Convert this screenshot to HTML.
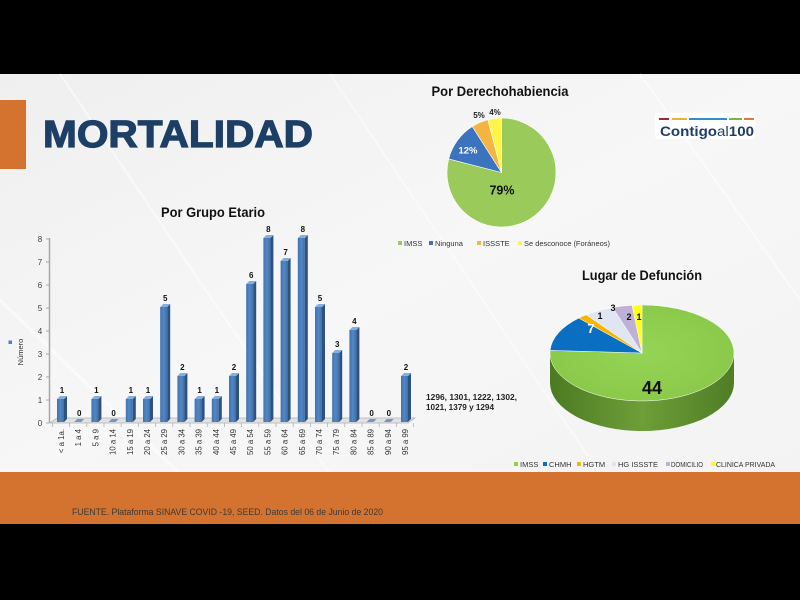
<!DOCTYPE html>
<html><head><meta charset="utf-8"><style>
html,body{margin:0;padding:0;background:#000;}
svg{display:block;}
text{font-family:"Liberation Sans",Arial,sans-serif;}
.bv{font-size:8px;font-weight:bold;fill:#111;text-anchor:middle;}
.yl{font-size:8px;fill:#404040;text-anchor:middle;}
.xl{font-size:7.8px;fill:#333;text-anchor:end;}
.lg{font-size:7.5px;fill:#333;}
</style></head><body>
<svg width="800" height="600" viewBox="0 0 800 600" xmlns="http://www.w3.org/2000/svg">
<defs>
<linearGradient id="bg" x1="0" y1="0" x2="1" y2="1">
<stop offset="0" stop-color="#efefef"/><stop offset="0.5" stop-color="#f7f7f7"/><stop offset="1" stop-color="#f3f3f3"/>
</linearGradient>
<linearGradient id="bf" x1="0" y1="0" x2="1" y2="0">
<stop offset="0" stop-color="#3f72b0"/><stop offset="0.5" stop-color="#5288c6"/><stop offset="1" stop-color="#416fa8"/>
</linearGradient>
<linearGradient id="side" x1="0" y1="0" x2="1" y2="0">
<stop offset="0" stop-color="#4c7a22"/><stop offset="0.5" stop-color="#6e9e38"/><stop offset="1" stop-color="#4f7d25"/>
</linearGradient>
<radialGradient id="gtop" cx="0.5" cy="0.5" r="0.6">
<stop offset="0" stop-color="#96d456"/><stop offset="1" stop-color="#88c748"/>
</radialGradient>
</defs>
<rect x="0" y="0" width="800" height="600" fill="#000"/>
<rect x="0" y="74" width="800" height="400" fill="url(#bg)"/>
<g stroke="#ffffff" stroke-opacity="0.5" fill="none">
<line x1="60" y1="74" x2="330" y2="474" stroke-width="2"/>
<line x1="330" y1="74" x2="600" y2="474" stroke-width="1.5"/>
<line x1="640" y1="74" x2="800" y2="300" stroke-width="2"/>
<line x1="0" y1="300" x2="180" y2="474" stroke-width="3"/>
</g>
<rect x="0" y="100" width="26" height="69" fill="#d3732f"/>
<text x="43" y="147" font-size="38" font-weight="bold" fill="#1d3f66" stroke="#1d3f66" stroke-width="1.2" textLength="270" lengthAdjust="spacingAndGlyphs">MORTALIDAD</text>
<rect x="655" y="113" width="100" height="26" rx="3" fill="#ffffff"/>
<g stroke-width="2">
<line x1="659" y1="119" x2="669" y2="119" stroke="#9e2a2f"/>
<line x1="672" y1="119" x2="687" y2="119" stroke="#e8b33c"/>
<line x1="689" y1="119" x2="727" y2="119" stroke="#2e8fc9"/>
<line x1="729" y1="119" x2="742" y2="119" stroke="#7cb342"/>
<line x1="744" y1="119" x2="754" y2="119" stroke="#e07b39"/>
</g>
<text x="660" y="136" font-size="14" font-weight="bold" fill="#1d3f66" textLength="94" lengthAdjust="spacingAndGlyphs">Contigo<tspan font-weight="normal">al</tspan>100</text>

<text x="213" y="217" font-size="14" font-weight="bold" fill="#111" text-anchor="middle" textLength="104" lengthAdjust="spacingAndGlyphs">Por Grupo Etario</text>
<rect x="8.5" y="340.5" width="3.5" height="3.5" fill="#4f81bd"/>
<text transform="translate(23,352) rotate(-90)" font-size="7.5" fill="#333" text-anchor="middle">Número</text>
<line x1="49.5" y1="238" x2="49.5" y2="423" stroke="#a8a8a8" stroke-width="1.5"/>
<g stroke="#a8a8a8" stroke-width="1">
<line x1="46" y1="239" x2="49" y2="239"/><line x1="46" y1="262" x2="49" y2="262"/>
<line x1="46" y1="285" x2="49" y2="285"/><line x1="46" y1="308" x2="49" y2="308"/>
<line x1="46" y1="331" x2="49" y2="331"/><line x1="46" y1="354" x2="49" y2="354"/>
<line x1="46" y1="377" x2="49" y2="377"/><line x1="46" y1="400" x2="49" y2="400"/>
<line x1="46" y1="423" x2="49" y2="423"/>
</g>
<text class="yl" x="40" y="242">8</text><text class="yl" x="40" y="265">7</text>
<text class="yl" x="40" y="288">6</text><text class="yl" x="40" y="311">5</text>
<text class="yl" x="40" y="334">4</text><text class="yl" x="40" y="357">3</text>
<text class="yl" x="40" y="380">2</text><text class="yl" x="40" y="403">1</text>
<text class="yl" x="40" y="426">0</text>
<polygon points="50,423 408,423 415,418 57,418" fill="#e2e2e2" stroke="#b3b3b3" stroke-width="0.8"/>
<g stroke="#b3b3b3" stroke-width="0.8">
<line x1="52.4" y1="423" x2="52.4" y2="427"/><line x1="69.6" y1="423" x2="69.6" y2="427"/>
<line x1="86.8" y1="423" x2="86.8" y2="427"/><line x1="104" y1="423" x2="104" y2="427"/>
<line x1="121.2" y1="423" x2="121.2" y2="427"/><line x1="138.4" y1="423" x2="138.4" y2="427"/>
<line x1="155.6" y1="423" x2="155.6" y2="427"/><line x1="172.8" y1="423" x2="172.8" y2="427"/>
<line x1="190" y1="423" x2="190" y2="427"/><line x1="207.2" y1="423" x2="207.2" y2="427"/>
<line x1="224.4" y1="423" x2="224.4" y2="427"/><line x1="241.6" y1="423" x2="241.6" y2="427"/>
<line x1="258.8" y1="423" x2="258.8" y2="427"/><line x1="276" y1="423" x2="276" y2="427"/>
<line x1="293.2" y1="423" x2="293.2" y2="427"/><line x1="310.4" y1="423" x2="310.4" y2="427"/>
<line x1="327.6" y1="423" x2="327.6" y2="427"/><line x1="344.8" y1="423" x2="344.8" y2="427"/>
<line x1="362" y1="423" x2="362" y2="427"/><line x1="379.2" y1="423" x2="379.2" y2="427"/>
<line x1="396.4" y1="423" x2="396.4" y2="427"/><line x1="413.6" y1="423" x2="413.6" y2="427"/>
</g>

<g transform="translate(57,0)"><rect x="0" y="399" width="7" height="23" fill="url(#bf)"/><polygon points="7,399 10,396 10,419 7,422" fill="#2d527f"/><polygon points="0,399 3,396 10,396 7,399" fill="#86aee0"/><text class="bv" x="5" y="393">1</text></g>
<g transform="translate(74.2,0)"><polygon points="0,422 3,419 10,419 7,422" fill="#6f97c9"/><text class="bv" x="5" y="416">0</text></g>
<g transform="translate(91.4,0)"><rect x="0" y="399" width="7" height="23" fill="url(#bf)"/><polygon points="7,399 10,396 10,419 7,422" fill="#2d527f"/><polygon points="0,399 3,396 10,396 7,399" fill="#86aee0"/><text class="bv" x="5" y="393">1</text></g>
<g transform="translate(108.6,0)"><polygon points="0,422 3,419 10,419 7,422" fill="#6f97c9"/><text class="bv" x="5" y="416">0</text></g>
<g transform="translate(125.8,0)"><rect x="0" y="399" width="7" height="23" fill="url(#bf)"/><polygon points="7,399 10,396 10,419 7,422" fill="#2d527f"/><polygon points="0,399 3,396 10,396 7,399" fill="#86aee0"/><text class="bv" x="5" y="393">1</text></g>
<g transform="translate(143,0)"><rect x="0" y="399" width="7" height="23" fill="url(#bf)"/><polygon points="7,399 10,396 10,419 7,422" fill="#2d527f"/><polygon points="0,399 3,396 10,396 7,399" fill="#86aee0"/><text class="bv" x="5" y="393">1</text></g>
<g transform="translate(160.2,0)"><rect x="0" y="307" width="7" height="115" fill="url(#bf)"/><polygon points="7,307 10,304 10,419 7,422" fill="#2d527f"/><polygon points="0,307 3,304 10,304 7,307" fill="#86aee0"/><text class="bv" x="5" y="301">5</text></g>
<g transform="translate(177.4,0)"><rect x="0" y="376" width="7" height="46" fill="url(#bf)"/><polygon points="7,376 10,373 10,419 7,422" fill="#2d527f"/><polygon points="0,376 3,373 10,373 7,376" fill="#86aee0"/><text class="bv" x="5" y="370">2</text></g>
<g transform="translate(194.6,0)"><rect x="0" y="399" width="7" height="23" fill="url(#bf)"/><polygon points="7,399 10,396 10,419 7,422" fill="#2d527f"/><polygon points="0,399 3,396 10,396 7,399" fill="#86aee0"/><text class="bv" x="5" y="393">1</text></g>
<g transform="translate(211.8,0)"><rect x="0" y="399" width="7" height="23" fill="url(#bf)"/><polygon points="7,399 10,396 10,419 7,422" fill="#2d527f"/><polygon points="0,399 3,396 10,396 7,399" fill="#86aee0"/><text class="bv" x="5" y="393">1</text></g>
<g transform="translate(229,0)"><rect x="0" y="376" width="7" height="46" fill="url(#bf)"/><polygon points="7,376 10,373 10,419 7,422" fill="#2d527f"/><polygon points="0,376 3,373 10,373 7,376" fill="#86aee0"/><text class="bv" x="5" y="370">2</text></g>
<g transform="translate(246.2,0)"><rect x="0" y="284" width="7" height="138" fill="url(#bf)"/><polygon points="7,284 10,281 10,419 7,422" fill="#2d527f"/><polygon points="0,284 3,281 10,281 7,284" fill="#86aee0"/><text class="bv" x="5" y="278">6</text></g>
<g transform="translate(263.4,0)"><rect x="0" y="238" width="7" height="184" fill="url(#bf)"/><polygon points="7,238 10,235 10,419 7,422" fill="#2d527f"/><polygon points="0,238 3,235 10,235 7,238" fill="#86aee0"/><text class="bv" x="5" y="232">8</text></g>
<g transform="translate(280.6,0)"><rect x="0" y="261" width="7" height="161" fill="url(#bf)"/><polygon points="7,261 10,258 10,419 7,422" fill="#2d527f"/><polygon points="0,261 3,258 10,258 7,261" fill="#86aee0"/><text class="bv" x="5" y="255">7</text></g>
<g transform="translate(297.8,0)"><rect x="0" y="238" width="7" height="184" fill="url(#bf)"/><polygon points="7,238 10,235 10,419 7,422" fill="#2d527f"/><polygon points="0,238 3,235 10,235 7,238" fill="#86aee0"/><text class="bv" x="5" y="232">8</text></g>
<g transform="translate(315,0)"><rect x="0" y="307" width="7" height="115" fill="url(#bf)"/><polygon points="7,307 10,304 10,419 7,422" fill="#2d527f"/><polygon points="0,307 3,304 10,304 7,307" fill="#86aee0"/><text class="bv" x="5" y="301">5</text></g>
<g transform="translate(332.2,0)"><rect x="0" y="353" width="7" height="69" fill="url(#bf)"/><polygon points="7,353 10,350 10,419 7,422" fill="#2d527f"/><polygon points="0,353 3,350 10,350 7,353" fill="#86aee0"/><text class="bv" x="5" y="347">3</text></g>
<g transform="translate(349.4,0)"><rect x="0" y="330" width="7" height="92" fill="url(#bf)"/><polygon points="7,330 10,327 10,419 7,422" fill="#2d527f"/><polygon points="0,330 3,327 10,327 7,330" fill="#86aee0"/><text class="bv" x="5" y="324">4</text></g>
<g transform="translate(366.6,0)"><polygon points="0,422 3,419 10,419 7,422" fill="#6f97c9"/><text class="bv" x="5" y="416">0</text></g>
<g transform="translate(383.8,0)"><polygon points="0,422 3,419 10,419 7,422" fill="#6f97c9"/><text class="bv" x="5" y="416">0</text></g>
<g transform="translate(401,0)"><rect x="0" y="376" width="7" height="46" fill="url(#bf)"/><polygon points="7,376 10,373 10,419 7,422" fill="#2d527f"/><polygon points="0,376 3,373 10,373 7,376" fill="#86aee0"/><text class="bv" x="5" y="370">2</text></g>

<text class="xl" transform="translate(64,429) rotate(-90)">&lt; a 1a.</text>
<text class="xl" transform="translate(81.2,429) rotate(-90)">1 a 4</text>
<text class="xl" transform="translate(98.4,429) rotate(-90)">5 a 9</text>
<text class="xl" transform="translate(115.6,429) rotate(-90)">10 a 14</text>
<text class="xl" transform="translate(132.8,429) rotate(-90)">15 a 19</text>
<text class="xl" transform="translate(150,429) rotate(-90)">20 a 24</text>
<text class="xl" transform="translate(167.2,429) rotate(-90)">25 a 29</text>
<text class="xl" transform="translate(184.4,429) rotate(-90)">30 a 34</text>
<text class="xl" transform="translate(201.6,429) rotate(-90)">35 a 39</text>
<text class="xl" transform="translate(218.8,429) rotate(-90)">40 a 44</text>
<text class="xl" transform="translate(236,429) rotate(-90)">45 a 49</text>
<text class="xl" transform="translate(253.2,429) rotate(-90)">50 a 54</text>
<text class="xl" transform="translate(270.4,429) rotate(-90)">55 a 59</text>
<text class="xl" transform="translate(287.6,429) rotate(-90)">60 a 64</text>
<text class="xl" transform="translate(304.8,429) rotate(-90)">65 a 69</text>
<text class="xl" transform="translate(322,429) rotate(-90)">70 a 74</text>
<text class="xl" transform="translate(339.2,429) rotate(-90)">75 a 79</text>
<text class="xl" transform="translate(356.4,429) rotate(-90)">80 a 84</text>
<text class="xl" transform="translate(373.6,429) rotate(-90)">85 a 89</text>
<text class="xl" transform="translate(390.8,429) rotate(-90)">90 a 94</text>
<text class="xl" transform="translate(408,429) rotate(-90)">95 a 99</text>

<text x="426" y="400" font-size="8" font-weight="bold" fill="#222" textLength="91" lengthAdjust="spacingAndGlyphs">1296, 1301, 1222, 1302,</text>
<text x="426" y="410" font-size="8" font-weight="bold" fill="#222" textLength="68" lengthAdjust="spacingAndGlyphs">1021, 1379 y 1294</text>

<text x="500" y="96" font-size="14" font-weight="bold" fill="#111" text-anchor="middle" textLength="137" lengthAdjust="spacingAndGlyphs">Por Derechohabiencia</text>
<g stroke="#ffffff" stroke-width="0.6">
<path d="M501.5,172.5 L501.5,118 A54.5,54.5 0 1 1 448.7,158.9 Z" fill="#9acb5a"/>
<path d="M501.5,172.5 L448.7,158.9 A54.5,54.5 0 0 1 472.3,126.5 Z" fill="#3c73bf"/>
<path d="M501.5,172.5 L472.3,126.5 A54.5,54.5 0 0 1 487.9,119.7 Z" fill="#f3b442"/>
<path d="M501.5,172.5 L487.9,119.7 A54.5,54.5 0 0 1 501.5,118 Z" fill="#fff548"/>
</g>
<text x="502" y="194.5" font-size="12.5" font-weight="bold" fill="#111" text-anchor="middle">79%</text>
<text x="468" y="153.5" font-size="9.5" font-weight="bold" fill="#fff" text-anchor="middle">12%</text>
<text x="479" y="118" font-size="8" font-weight="bold" fill="#222" text-anchor="middle">5%</text>
<text x="495" y="115" font-size="8" font-weight="bold" fill="#222" text-anchor="middle">4%</text>
<rect x="398" y="241" width="4" height="4" fill="#9acb5a"/><text class="lg" x="404" y="246">IMSS</text>
<rect x="429" y="241" width="4" height="4" fill="#3c73bf"/><text class="lg" x="435" y="246">Ninguna</text>
<rect x="477" y="241" width="4" height="4" fill="#f3b442"/><text class="lg" x="483" y="246">ISSSTE</text>
<rect x="518" y="241" width="4" height="4" fill="#fff548"/><text class="lg" x="524" y="246" textLength="86" lengthAdjust="spacingAndGlyphs">Se desconoce (Foráneos)</text>

<text x="642" y="280" font-size="14" font-weight="bold" fill="#111" text-anchor="middle" textLength="120" lengthAdjust="spacingAndGlyphs">Lugar de Defunción</text>
<path d="M734,353 L734,383 A92,48 0 0 1 550,383 L550,353 A92,48 0 0 0 734,353 Z" fill="url(#side)"/>
<g stroke="#ffffff" stroke-width="0.5">
<path d="M642,353 L642,305 A92,48 0 1 1 550.1,350.4 Z" fill="url(#gtop)"/>
<path d="M642,353 L550.1,350.4 A92,48 0 0 1 578.8,318.1 Z" fill="#0a6fc0"/>
<path d="M642,353 L578.8,318.1 A92,48 0 0 1 586.4,314.8 Z" fill="#f7b500"/>
<path d="M642,353 L586.4,314.8 A92,48 0 0 1 612.7,307.5 Z" fill="#dfe6f2"/>
<path d="M642,353 L612.7,307.5 A92,48 0 0 1 632.1,305.3 Z" fill="#bfb1d6"/>
<path d="M642,353 L632.1,305.3 A92,48 0 0 1 642,305 Z" fill="#ffff1a"/>
</g>
<text x="591" y="333" font-size="13" font-weight="bold" fill="#fff" text-anchor="middle">7</text>
<text x="600" y="319" font-size="9" font-weight="bold" fill="#111" text-anchor="middle">1</text>
<text x="613" y="311" font-size="9" font-weight="bold" fill="#111" text-anchor="middle">3</text>
<text x="629" y="320" font-size="9" font-weight="bold" fill="#111" text-anchor="middle">2</text>
<text x="639" y="320" font-size="9" font-weight="bold" fill="#111" text-anchor="middle">1</text>
<text x="652" y="394" font-size="18" font-weight="bold" fill="#111" text-anchor="middle">44</text>
<rect x="514" y="462" width="4" height="4" fill="#92d050"/><text class="lg" x="520" y="467">IMSS</text>
<rect x="543" y="462" width="4" height="4" fill="#0a6fc0"/><text class="lg" x="549" y="467">CHMH</text>
<rect x="577" y="462" width="4" height="4" fill="#f7b500"/><text class="lg" x="583" y="467">HGTM</text>
<rect x="612" y="462" width="4" height="4" fill="#dfe6f2"/><text class="lg" x="618" y="467">HG ISSSTE</text>
<rect x="666" y="462" width="4" height="4" fill="#bfb1d6"/><text class="lg" x="671" y="467" textLength="32" lengthAdjust="spacingAndGlyphs">DOMICILIO</text>
<rect x="711" y="462" width="4" height="4" fill="#ffff1a"/><text class="lg" x="716" y="467" textLength="59" lengthAdjust="spacingAndGlyphs">CLINICA PRIVADA</text>

<rect x="0" y="472" width="800" height="52" fill="#d3732f"/>
<text x="72" y="515" font-size="9" fill="#3a3a3a" textLength="311" lengthAdjust="spacingAndGlyphs">FUENTE. Plataforma SINAVE COVID -19, SEED. Datos del 06 de Junio de 2020</text>
<rect x="0" y="524" width="800" height="76" fill="#000"/>
</svg>
</body></html>
